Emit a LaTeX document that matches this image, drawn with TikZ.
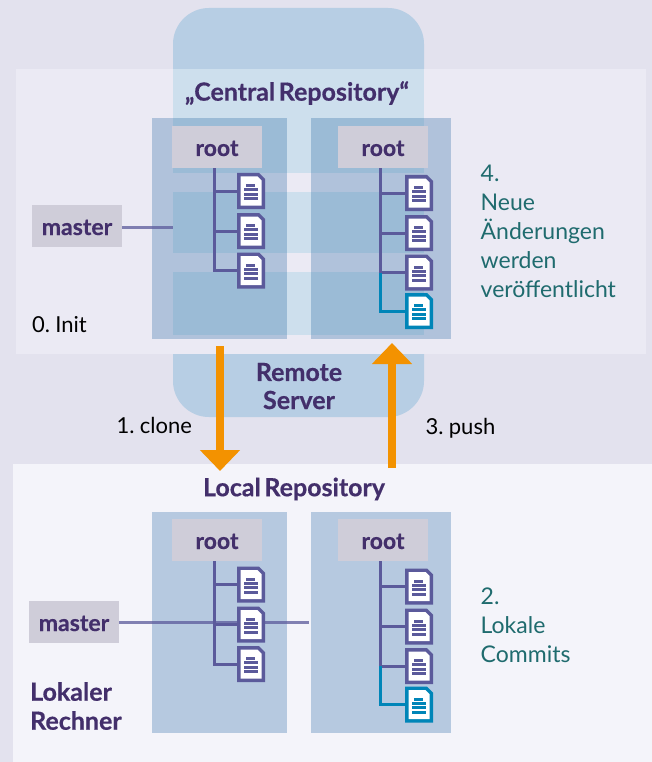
\documentclass[tikz,border=0pt]{standalone}
\usepackage{fontspec}
\setmainfont{Lato}[BoldFont={Lato Bold},BoldFeatures={FakeBold=0.5},WordSpace=0.6]
\usetikzlibrary{arrows.meta}

\definecolor{bgcol}{HTML}{E3E2EE}
\definecolor{panelcol}{HTML}{EBEAF4}
\definecolor{localcol}{HTML}{F4F4FA}
\definecolor{servercol}{HTML}{B7CEE4}
\definecolor{serverlight}{HTML}{CDDFED}
\definecolor{repocol}{HTML}{2968A4}
\definecolor{labelcol}{HTML}{CFCDD9}
\definecolor{textcol}{HTML}{432F6B}
\definecolor{notecol}{HTML}{1F6B6E}
\definecolor{treecol}{HTML}{5B5A9B}
\definecolor{newcol}{HTML}{0085B8}
\definecolor{arrowcol}{HTML}{F39200}

\tikzset{
	repobox/.style={fill=repocol,fill opacity=0.3,draw=none},
	namebox/.style={fill=labelcol,minimum width=90pt,minimum height=42pt,inner sep=0pt,text height=18pt,text depth=0pt,text=textcol,font=\fontsize{23}{26}\selectfont\bfseries},
	treeline/.style={draw=treecol,line width=3pt},
	newline/.style={draw=newcol,line width=3pt},
	masterline/.style={draw=treecol,line width=3pt,draw opacity=0.75},
	orangearrow/.style={draw=arrowcol,line width=8pt,-{Triangle[width=39pt,length=21pt,fill=arrowcol]}},
	heading/.style={text=textcol,font=\fontsize{25}{29}\selectfont\bfseries,inner sep=0pt},
	steptext/.style={text=black,font=\fontsize{22}{26}\selectfont,inner sep=0pt},
	notetext/.style={text=notecol,font=\fontsize{23}{29}\selectfont,inner sep=0pt,align=left,anchor=north west},
	docbox/.style={minimum width=28pt,minimum height=36pt,inner sep=0pt,outer sep=0pt,
		path picture={
			\begin{scope}[shift={(path picture bounding box.center)}]
			\fill[#1] (-14,-18) -- (8,-18) -- (14,-12) -- (14,18) -- (-14,18) -- cycle;
			\fill[white] (-10.5,-14.5) -- (6.5,-14.5) -- (10.5,-10.5) -- (10.5,14.5) -- (-10.5,14.5) -- cycle;
			\fill[#1] (-5.5,-7) rectangle ++(9,3);
			\foreach \yy in {-3,1.5,6}
				\fill[#1] (-7,\yy) rectangle ++(14,3);
			\end{scope}
		}},
}

\begin{document}
\begin{tikzpicture}[x=1pt,y=-1pt]
	\useasboundingbox (0,0) rectangle (652,762);
	\fill[bgcol] (0,0) rectangle (652,762);
	
	% panels
	\fill[panelcol] (16,69) rectangle (646,354);
	\fill[localcol] (13,464) rectangle (652,762);
	
	% server, cut by the panel
	\fill[servercol] (173,69) [rounded corners=36pt] -- (173,8) -- (424,8) [sharp corners] -- (424,69) -- cycle;
	\fill[servercol] (173,354) [rounded corners=36pt] -- (173,417) -- (424,417) [sharp corners] -- (424,354) -- cycle;
	\fill[serverlight] (173,69) rectangle (424,173);
	\fill[serverlight] (173,192) rectangle (424,253);
	\fill[serverlight] (173,272) rectangle (424,335);
	
	% repositories
	\fill[repobox] (152,118) rectangle (287,339);
	\fill[repobox] (311,118) rectangle (451,339);
	\fill[repobox] (152,512) rectangle (287,733);
	\fill[repobox] (311,512) rectangle (451,733);
	
	% names
	\node[heading] (central) at (297,93) {„Central Repository“};
	\node[heading] (remote) at (299,372) {Remote};
	\node[heading] (server) at (299,400) {Server};
	\node[heading] (local) at (294,489) {Local Repository};
	\node[heading,anchor=west] (lokaler) at (30,691.5) {Lokaler};
	\node[heading,anchor=west] (rechner) at (30,720.5) {Rechner};
	
	\node[steptext,anchor=west] (init) at (32,325) {0. Init};
	\node[steptext,anchor=west] (clone) at (116.5,425) {1. clone};
	\node[steptext,anchor=west] (push) at (425.5,428) {3. push};
	
	\node[notetext] (publish) at (480.5,165) {4.\\Neue\\Änderungen\\werden\\veröffentlicht};
	\node[notetext] (commits) at (480.5,587.5) {2.\\Lokale\\Commits};
	
	% root and master labels
	\node[namebox] (rootA) at (217,147) {root};
	\node[namebox] (rootB) at (383,147) {root};
	\node[namebox] (rootC) at (217,540) {root};
	\node[namebox] (rootD) at (383,540) {root};
	\node[namebox] (masterA) at (77,226) {master};
	\node[namebox] (masterB) at (74,622) {master};
	
	\coordinate (masterAend) at (173,227);
	\coordinate (masterBend) at (309,622);
	\draw[masterline] (masterA.east |- masterAend) -- (masterAend);
	\draw[masterline] (masterB.east |- masterBend) -- (masterBend);
	
	% files
	\foreach \n/\yy in {1/191,2/231,3/270.5}{
		\node[docbox=treecol] (docA\n) at (251,\yy) {};
		\node[docbox=treecol] (docC\n) at (251,\yy+393.5) {};
	}
	\foreach \n/\yy in {1/193,2/233,3/272.5}{
		\node[docbox=treecol] (docB\n) at (419,\yy) {};
		\node[docbox=treecol] (docD\n) at (419,\yy+393.5) {};
	}
	\node[docbox=newcol] (docB4) at (419,311) {};
	\node[docbox=newcol] (docD4) at (419,704.5) {};
	
	% trees
	\foreach \r/\d in {rootA/docA,rootB/docB,rootC/docC,rootD/docD}{
		\draw[treeline] ([xshift=-2.5pt]\r.south) |- (\d3.west);
		\draw[treeline] ([xshift=-2.5pt]\r.south |- \d1.west) -- (\d1.west);
		\draw[treeline] ([xshift=-2.5pt]\r.south |- \d2.west) -- (\d2.west);
	}
	\draw[newline] ([xshift=-2.5pt]rootB.south |- docB3.west) |- (docB4.west);
	\draw[newline] ([xshift=-2.5pt]rootD.south |- docD3.west) |- (docD4.west);
	
	% clone and push
	\coordinate (cloneA) at (220,346);
	\coordinate (cloneB) at (220,471);
	\coordinate (pushA) at (392,468);
	\coordinate (pushB) at (392,343);
	\draw[orangearrow] (cloneA) -- (cloneB);
	\draw[orangearrow] (pushA) -- (pushB);
\end{tikzpicture}
\end{document}
